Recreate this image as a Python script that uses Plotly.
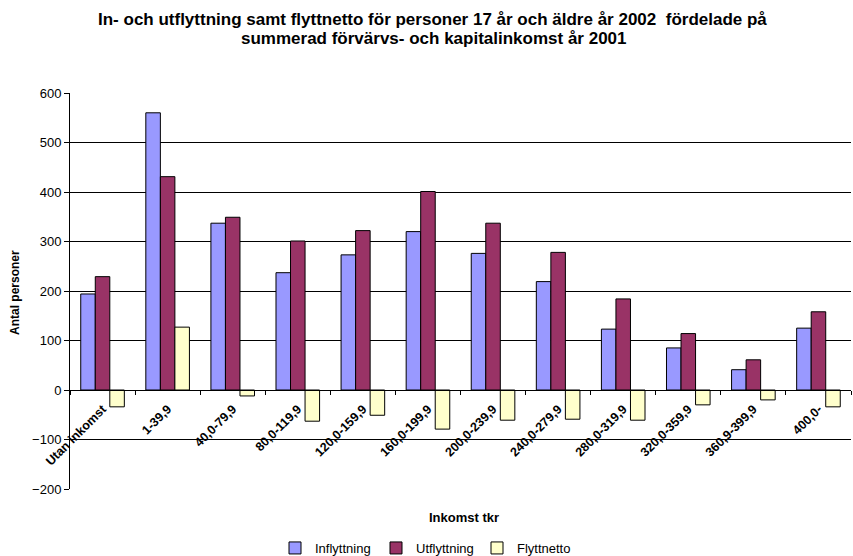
import plotly.graph_objects as go

categories = ["Utan inkomst", "1-39,9", "40,0-79,9", "80,0-119,9", "120,0-159,9",
              "160,0-199,9", "200,0-239,9", "240,0-279,9", "280,0-319,9",
              "320,0-359,9", "360,9-399,9", "400,0-"]
inflyttning = [194, 560, 337, 237, 273, 320, 276, 219, 123, 85, 41, 125]
utflyttning = [229, 431, 349, 301, 322, 401, 337, 278, 184, 114, 61, 158]
flyttnetto = [-34, 127, -12, -63, -51, -79, -61, -59, -61, -30, -20, -34]

yticks = [-200, -100, 0, 100, 200, 300, 400, 500, 600]

title_lines = ["In- och utflyttning samt flyttnetto för personer 17 år och äldre år 2002  fördelade på",
               "summerad förvärvs- och kapitalinkomst år 2001"]

FONT = "Liberation Sans, Arial, sans-serif"
line = dict(color="black", width=1)

W, H = 853, 556
L, R, T, B = 70, 2, 93, 67
PW, PH = W - L - R, H - T - B


def px_x(x):
    return (x - L) / PW


def px_y(y):
    return (H - B - y) / PH


fig = go.Figure()
fig.add_trace(go.Bar(name="Inflyttning", x=categories, y=inflyttning,
                     marker=dict(color="#9999FF", line=line)))
fig.add_trace(go.Bar(name="Utflyttning", x=categories, y=utflyttning,
                     marker=dict(color="#993366", line=line)))
fig.add_trace(go.Bar(name="Flyttnetto", x=categories, y=flyttnetto,
                     marker=dict(color="#FFFFCC", line=line)))

annotations = [
    dict(text=title_lines[0], x=px_x(432), y=px_y(19),
         font=dict(family=FONT, size=17, color="black", weight="bold")),
    dict(text=title_lines[1], x=px_x(434), y=px_y(38),
         font=dict(family=FONT, size=17, color="black", weight="bold")),
    dict(text="Inkomst tkr", x=px_x(464), y=px_y(517),
         font=dict(family=FONT, size=13, color="black", weight="bold")),
    dict(text="Antal personer", x=px_x(15), y=px_y(293), textangle=-90,
         font=dict(family=FONT, size=12, color="black", weight="bold")),
]
for a in annotations:
    a.update(xref="paper", yref="paper", xanchor="center", yanchor="middle", showarrow=False)

fig.update_layout(
    width=W, height=H,
    margin=dict(l=L, r=R, t=T, b=B, autoexpand=False),
    paper_bgcolor="white", plot_bgcolor="white",
    barmode="group", bargap=0.33, bargroupgap=0,
    font=dict(family=FONT, color="black"),
    xaxis=dict(
        anchor="free", position=0.25,
        showline=True, linecolor="black", linewidth=1,
        ticks="outside", ticklen=4, tickcolor="black", tickson="boundaries",
        ticklabelstandoff=6,
        tickangle=-45, tickfont=dict(family=FONT, size=12.5, color="black", weight="bold"),
        showgrid=False, zeroline=False, automargin=False,
    ),
    yaxis=dict(
        range=[-200, 600], tickvals=yticks,
        showline=True, linecolor="black", linewidth=1,
        ticks="outside", ticklen=5, tickcolor="black",
        tickfont=dict(family=FONT, size=13, color="black"),
        showgrid=True, gridcolor="black", gridwidth=1,
        zeroline=False, automargin=False,
    ),
    legend=dict(
        orientation="h", x=0.5, xref="container", xanchor="center",
        y=(H - 548) / H, yref="container", yanchor="middle",
        font=dict(family=FONT, size=13, color="black"),
        itemwidth=30, tracegroupgap=0, entrywidth=56,
    ),
    annotations=annotations,
)

fig.write_html("out.html")
